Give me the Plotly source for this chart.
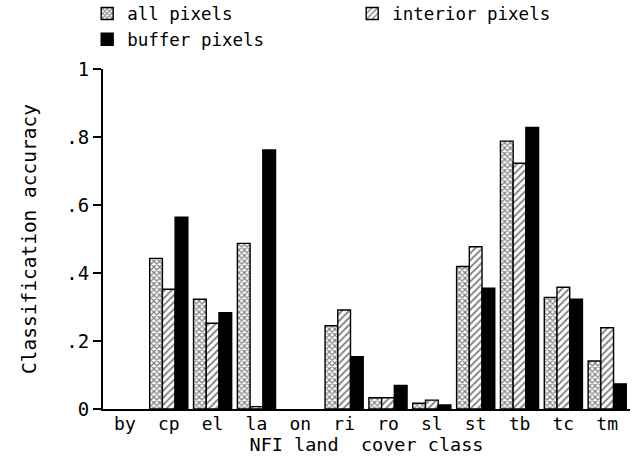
import plotly.graph_objects as go

categories = ["by", "cp", "el", "la", "on", "ri", "ro", "sl", "st", "tb", "tc", "tm"]
all_pixels = [None, 0.443, 0.323, 0.487, None, 0.245, 0.033, 0.017, 0.419, 0.788, 0.328, 0.141]
interior_pixels = [None, 0.352, 0.252, 0.007, None, 0.291, 0.033, 0.026, 0.477, 0.723, 0.358, 0.239]
buffer_pixels = [None, 0.564, 0.283, 0.762, None, 0.154, 0.069, 0.012, 0.355, 0.828, 0.323, 0.074]
ytick_vals = [0, 0.2, 0.4, 0.6, 0.8, 1]
ytick_text = ["0", ".2", ".4", ".6", ".8", "1"]

FONT = "DejaVu Sans Mono"

fig = go.Figure()
fig.add_trace(go.Bar(
    x=categories, y=all_pixels, name="all pixels",
    marker=dict(color="white", line=dict(color="black", width=1.4),
                pattern=dict(shape="x", fgcolor="black", bgcolor="white", size=4, solidity=0.5)),
))
fig.add_trace(go.Bar(
    x=categories, y=interior_pixels, name="interior pixels",
    marker=dict(color="white", line=dict(color="black", width=1.4),
                pattern=dict(shape="/", fgcolor="black", bgcolor="white", size=5, solidity=0.35)),
))
fig.add_trace(go.Bar(
    x=categories, y=buffer_pixels, name="buffer pixels",
    marker=dict(color="black", line=dict(color="black", width=1.4)),
))

fig.update_layout(
    width=636, height=457,
    margin=dict(l=103, r=6, t=69, b=48, autoexpand=False),
    paper_bgcolor="white", plot_bgcolor="white",
    barmode="group", bargap=0.13, bargroupgap=0,
    font=dict(family=FONT, size=18, color="black"),
    showlegend=True,
    legend=dict(orientation="h", x=-0.03, xanchor="left",
                y=1.216, yanchor="top",
                entrywidth=220, entrywidthmode="pixels",
                font=dict(family=FONT, size=17.5), traceorder="normal",
                itemwidth=30, tracegroupgap=0, bgcolor="rgba(0,0,0,0)"),
    xaxis=dict(
        type="category", range=[-0.5, 11.52], showline=True, linecolor="black", linewidth=2,
        ticks="", showgrid=False, zeroline=False, ticklabelstandoff=-3,
        title=dict(text="NFI land  cover class", standoff=0, font=dict(size=18.5)),
        tickfont=dict(size=18),
    ),
    yaxis=dict(
        range=[0, 1], tickvals=ytick_vals, ticktext=ytick_text, showline=True,
        linecolor="black", linewidth=2, ticks="outside", ticklen=8, tickwidth=2, tickcolor="black",
        showgrid=False, zeroline=False,
        title=dict(text="Classification accuracy", standoff=24, font=dict(size=19.5)),
        tickfont=dict(size=19),
    ),
)

fig.write_html("out.html")
